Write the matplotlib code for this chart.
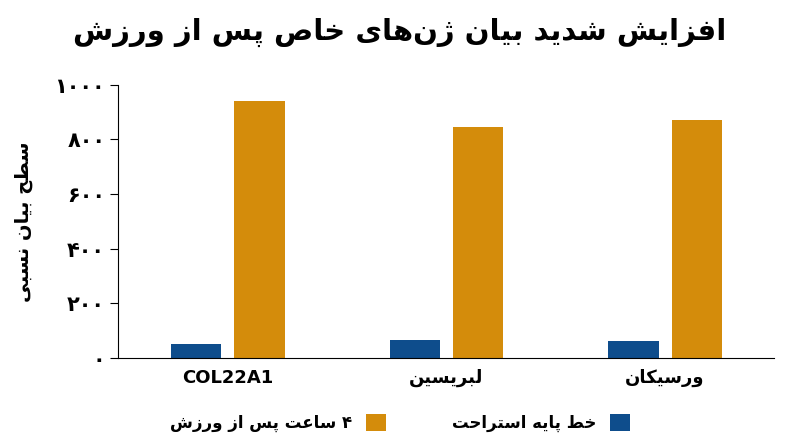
import matplotlib
matplotlib.use("Agg")
import matplotlib.pyplot as plt
import numpy as np

FORMS = {
 'ا':(0xFE8D,0xFE8E,None,None),'آ':(0xFE81,0xFE82,None,None),
 'ب':(0xFE8F,0xFE90,0xFE91,0xFE92),'پ':(0xFB56,0xFB57,0xFB58,0xFB59),
 'ت':(0xFE95,0xFE96,0xFE97,0xFE98),'ث':(0xFE99,0xFE9A,0xFE9B,0xFE9C),
 'ج':(0xFE9D,0xFE9E,0xFE9F,0xFEA0),'چ':(0xFB7A,0xFB7B,0xFB7C,0xFB7D),
 'ح':(0xFEA1,0xFEA2,0xFEA3,0xFEA4),'خ':(0xFEA5,0xFEA6,0xFEA7,0xFEA8),
 'د':(0xFEA9,0xFEAA,None,None),'ذ':(0xFEAB,0xFEAC,None,None),
 'ر':(0xFEAD,0xFEAE,None,None),'ز':(0xFEAF,0xFEB0,None,None),
 'ژ':(0xFB8A,0xFB8B,None,None),'س':(0xFEB1,0xFEB2,0xFEB3,0xFEB4),
 'ش':(0xFEB5,0xFEB6,0xFEB7,0xFEB8),'ص':(0xFEB9,0xFEBA,0xFEBB,0xFEBC),
 'ض':(0xFEBD,0xFEBE,0xFEBF,0xFEC0),'ط':(0xFEC1,0xFEC2,0xFEC3,0xFEC4),
 'ظ':(0xFEC5,0xFEC6,0xFEC7,0xFEC8),'ع':(0xFEC9,0xFECA,0xFECB,0xFECC),
 'غ':(0xFECD,0xFECE,0xFECF,0xFED0),'ف':(0xFED1,0xFED2,0xFED3,0xFED4),
 'ق':(0xFED5,0xFED6,0xFED7,0xFED8),'ک':(0xFB8E,0xFB8F,0xFB90,0xFB91),
 'گ':(0xFB92,0xFB93,0xFB94,0xFB95),'ل':(0xFEDD,0xFEDE,0xFEDF,0xFEE0),
 'م':(0xFEE1,0xFEE2,0xFEE3,0xFEE4),'ن':(0xFEE5,0xFEE6,0xFEE7,0xFEE8),
 'و':(0xFEED,0xFEEE,None,None),'ه':(0xFEE9,0xFEEA,0xFEEB,0xFEEC),
 'ی':(0xFBFC,0xFBFD,0xFBFE,0xFBFF),
}

def fa(s):
    if not any(c in FORMS for c in s):
        return s
    out = []
    n = len(s)
    for i, c in enumerate(s):
        if c == '\u200c':
            continue
        if c not in FORMS:
            out.append(c); continue
        p = s[i-1] if i > 0 else ''
        q = s[i+1] if i < n-1 else ''
        pj = p in FORMS and FORMS[p][2] is not None
        nj = q in FORMS and FORMS[c][2] is not None
        f = FORMS[c]
        if pj and nj: ch = f[3]
        elif pj: ch = f[1]
        elif nj: ch = f[2]
        else: ch = f[0]
        out.append(chr(ch))
    return ''.join(out)[::-1]

categories = ["COL22A1", "لبریسین", "ورسیکان"]
baseline = [50, 65, 60]
post = [940, 845, 870]
series_names = ["خط پایه استراحت", "۴ ساعت پس از ورزش"]
yticks = [0, 200, 400, 600, 800, 1000]
ytick_labels = ["۰", "۲۰۰", "۴۰۰", "۶۰۰", "۸۰۰", "۱۰۰۰"]
title = "افزایش شدید بیان ژن‌های خاص پس از ورزش"
ylabel = "سطح بیان نسبی"

plt.rcParams['font.family'] = ['DejaVu Sans']
fig = plt.figure(figsize=(8, 4.47), dpi=100)
ax = fig.add_axes([0.148, 0.2, 0.82, 0.61])
x = np.arange(len(categories))
w = 0.23
b1 = ax.bar(x - 0.145, baseline, w, color="#0e4d8c")
b2 = ax.bar(x + 0.145, post, w, color="#d48c0b")
ax.set_xlim(-0.5, 2.5)
ax.set_ylim(0, 1000)
ax.set_yticks(yticks)
ax.set_yticklabels(ytick_labels, fontsize=15, fontweight='bold')
ax.set_xticks(x)
ax.set_xticklabels([fa(c) for c in categories], fontsize=13, fontweight='bold')
ax.tick_params(axis='x', length=0, pad=8)
ax.tick_params(axis='y', length=6)
for s in ['top', 'right']:
    ax.spines[s].set_visible(False)
ax.set_ylabel(fa(ylabel), fontsize=14, fontweight='bold')
ax.yaxis.set_label_coords(-0.13, 0.5)
fig.suptitle(fa(title), fontsize=21, fontweight='bold', y=0.96)
fig.legend(handles=[b2, b1], labels=[fa(series_names[1]), fa(series_names[0])],
           loc='lower center', bbox_to_anchor=(0.5, 0.0), ncol=2, frameon=False,
           markerfirst=False, prop={'weight': 'bold', 'size': 12},
           handlelength=1.2, handleheight=1.2, columnspacing=4)
fig.savefig("out.png", dpi=100)
